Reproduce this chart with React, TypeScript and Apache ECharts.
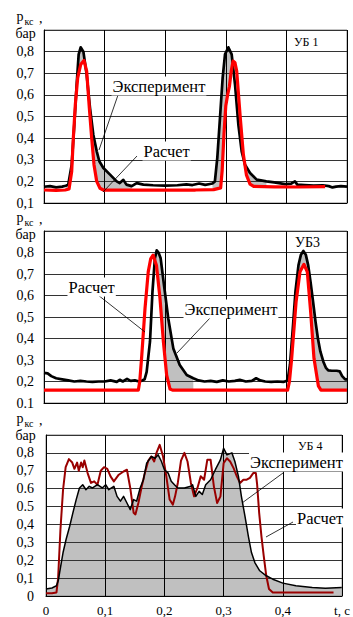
import React, { useEffect, useRef } from 'react';
import * as echarts from 'echarts';

type Pt = [number, number];

// ---------- Panel 1 (УБ 1) ----------
const p1Experiment: Pt[] = [
  [0, 0.175], [0.01, 0.178], [0.02, 0.172], [0.03, 0.176], [0.036, 0.18], [0.04, 0.185],
  [0.0457, 0.277], [0.05, 0.463], [0.0539, 0.648], [0.0572, 0.787], [0.0605, 0.82], [0.065, 0.8],
  [0.0704, 0.694], [0.0759, 0.54], [0.0814, 0.416], [0.087, 0.339], [0.0913, 0.293], [0.098, 0.262],
  [0.109, 0.231], [0.12, 0.2], [0.125, 0.192], [0.131, 0.207], [0.136, 0.185], [0.1447, 0.178],
  [0.153, 0.192], [0.164, 0.185], [0.18, 0.182], [0.2, 0.18], [0.22, 0.182], [0.235, 0.186],
  [0.245, 0.183], [0.256, 0.19], [0.266, 0.184], [0.274, 0.188], [0.278, 0.19], [0.282, 0.2],
  [0.286, 0.31], [0.2904, 0.494], [0.2948, 0.679], [0.2987, 0.787], [0.3042, 0.82], [0.3097, 0.787],
  [0.3152, 0.648], [0.3207, 0.463], [0.3262, 0.339], [0.3317, 0.277], [0.34, 0.239], [0.351, 0.208],
  [0.367, 0.2], [0.38, 0.195], [0.398, 0.187], [0.408, 0.19], [0.414, 0.2], [0.418, 0.185],
  [0.43, 0.183], [0.445, 0.18], [0.46, 0.182], [0.47, 0.178], [0.476, 0.172], [0.482, 0.176],
  [0.49, 0.178], [0.5, 0.176],
];
const p1Calc: Pt[] = [
  [0, 0.16], [0.02, 0.158], [0.035, 0.16], [0.0413, 0.165], [0.0457, 0.246], [0.0484, 0.401],
  [0.0517, 0.555], [0.0556, 0.679], [0.0605, 0.74], [0.066, 0.759], [0.0704, 0.71], [0.0748, 0.54],
  [0.0787, 0.4], [0.0825, 0.277], [0.087, 0.2], [0.0924, 0.168], [0.098, 0.16], [0.15, 0.16],
  [0.2, 0.16], [0.25, 0.16], [0.28, 0.162], [0.2915, 0.17], [0.294, 0.25], [0.297, 0.42],
  [0.3, 0.55], [0.303, 0.6], [0.306, 0.64], [0.309, 0.71], [0.312, 0.756], [0.315, 0.75],
  [0.318, 0.71], [0.321, 0.6], [0.324, 0.49], [0.329, 0.324], [0.334, 0.23], [0.34, 0.187],
  [0.346, 0.177], [0.38, 0.175], [0.42, 0.174], [0.464, 0.176],
];
const p1FillWindows: Pt[] = [[0.035, 0.15], [0.275, 0.37]];
const p1YLabels = ['0,1', '0,2', '0,3', '0,4', '0,5', '0,6', '0,7', '0,8', ''];

// ---------- Panel 2 (УБ3) ----------
const p2Experiment: Pt[] = [
  [0, 0.24], [0.006, 0.238], [0.012, 0.225], [0.02, 0.215], [0.03, 0.21], [0.04, 0.205],
  [0.05, 0.2], [0.06, 0.203], [0.07, 0.2], [0.08, 0.198], [0.09, 0.2], [0.1, 0.2], [0.11, 0.205],
  [0.12, 0.198], [0.125, 0.208], [0.13, 0.2], [0.137, 0.212], [0.143, 0.203], [0.15, 0.205],
  [0.157, 0.2], [0.162, 0.205], [0.166, 0.21], [0.1694, 0.245], [0.1749, 0.385], [0.179, 0.618],
  [0.183, 0.773], [0.186, 0.81], [0.189, 0.8], [0.1925, 0.773], [0.198, 0.649], [0.205, 0.494],
  [0.2134, 0.354], [0.224, 0.277], [0.2355, 0.23], [0.2464, 0.215], [0.255, 0.205], [0.265, 0.2],
  [0.275, 0.203], [0.285, 0.198], [0.295, 0.205], [0.305, 0.2], [0.315, 0.203], [0.323, 0.208],
  [0.333, 0.2], [0.343, 0.203], [0.35, 0.215], [0.357, 0.205], [0.365, 0.2], [0.375, 0.198],
  [0.385, 0.2], [0.395, 0.198], [0.402, 0.205], [0.406, 0.28], [0.411, 0.463], [0.415, 0.62],
  [0.42, 0.742], [0.424, 0.79], [0.428, 0.807], [0.432, 0.79], [0.436, 0.74], [0.44, 0.66],
  [0.444, 0.571], [0.448, 0.48], [0.452, 0.4], [0.456, 0.34], [0.461, 0.292], [0.465, 0.265],
  [0.469, 0.252], [0.475, 0.25], [0.483, 0.25], [0.488, 0.247], [0.492, 0.225], [0.497, 0.21],
  [0.5, 0.21],
];
const p2Calc: Pt[] = [
  [0, 0.16], [0.05, 0.16], [0.1, 0.16], [0.1557, 0.16], [0.158, 0.2], [0.161, 0.308],
  [0.1667, 0.54], [0.172, 0.71], [0.176, 0.77], [0.18, 0.788], [0.1856, 0.74], [0.1914, 0.587],
  [0.197, 0.385], [0.2024, 0.23], [0.208, 0.165], [0.212, 0.16], [0.3, 0.16], [0.402, 0.16],
  [0.405, 0.2], [0.4087, 0.308], [0.416, 0.571], [0.4224, 0.71], [0.429, 0.745], [0.4345, 0.71],
  [0.44, 0.525], [0.4455, 0.308], [0.4527, 0.18], [0.457, 0.16], [0.5, 0.16],
];
const p2FillWindows: Pt[] = [[0.164, 0.25], [0.4, 0.51]];
const p2YLabels = ['0.1', '0,2', '0,3', '0,4', '0,5', '0,6', '0,7', '0,8', ''];

// ---------- Panel 3 (УБ 4) ----------
const p3Experiment: Pt[] = [
  [0, 0.039], [0.01, 0.045], [0.0177, 0.057], [0.021, 0.09], [0.023, 0.13], [0.026, 0.19],
  [0.0288, 0.243], [0.034, 0.317], [0.04, 0.39], [0.0454, 0.465], [0.051, 0.539], [0.0565, 0.604],
  [0.062, 0.622], [0.0675, 0.594], [0.073, 0.613], [0.0786, 0.604], [0.0869, 0.622], [0.095, 0.604],
  [0.1008, 0.622], [0.106, 0.594], [0.1146, 0.613], [0.12, 0.557], [0.1257, 0.53], [0.131, 0.557],
  [0.1367, 0.52], [0.1423, 0.483], [0.148, 0.539], [0.153, 0.53], [0.159, 0.604], [0.1645, 0.65],
  [0.17, 0.743], [0.178, 0.78], [0.184, 0.77], [0.1894, 0.789], [0.195, 0.752], [0.2, 0.706],
  [0.2063, 0.687], [0.2115, 0.641], [0.217, 0.622], [0.2226, 0.604], [0.2337, 0.604], [0.2447, 0.613],
  [0.2475, 0.622], [0.253, 0.557], [0.2586, 0.585], [0.264, 0.567], [0.2697, 0.622], [0.278, 0.65],
  [0.286, 0.706], [0.2945, 0.761], [0.3, 0.826], [0.3056, 0.789], [0.314, 0.8], [0.319, 0.752],
  [0.325, 0.669], [0.33, 0.557], [0.336, 0.446], [0.3417, 0.335], [0.347, 0.243], [0.3527, 0.187],
  [0.361, 0.141], [0.372, 0.113], [0.383, 0.094], [0.4, 0.072], [0.422, 0.057], [0.4497, 0.048],
  [0.4718, 0.043], [0.4995, 0.048],
];
const p3Calc: Pt[] = [
  [0, 0.015], [0.01, 0.015], [0.0177, 0.02], [0.0205, 0.102], [0.0244, 0.372], [0.0288, 0.594],
  [0.0332, 0.72], [0.0387, 0.765], [0.0443, 0.746], [0.048, 0.711], [0.0525, 0.746], [0.0554, 0.7],
  [0.0593, 0.746], [0.062, 0.72], [0.0648, 0.757], [0.0703, 0.687], [0.0759, 0.632], [0.0814, 0.641],
  [0.0869, 0.622], [0.0925, 0.7], [0.098, 0.72], [0.1035, 0.711], [0.109, 0.669], [0.1146, 0.641],
  [0.1229, 0.678], [0.131, 0.696], [0.1367, 0.706], [0.1423, 0.604], [0.148, 0.465], [0.151, 0.456],
  [0.156, 0.52], [0.1617, 0.613], [0.167, 0.687], [0.1728, 0.757], [0.178, 0.78], [0.1827, 0.752],
  [0.1866, 0.8], [0.192, 0.845], [0.1977, 0.78], [0.2032, 0.669], [0.2088, 0.539], [0.2143, 0.511],
  [0.218, 0.557], [0.2226, 0.632], [0.228, 0.757], [0.2337, 0.8], [0.239, 0.752], [0.2447, 0.632],
  [0.25, 0.557], [0.2558, 0.604], [0.2613, 0.669], [0.267, 0.65], [0.2724, 0.761], [0.278, 0.761],
  [0.2835, 0.613], [0.289, 0.52], [0.2946, 0.557], [0.3, 0.743], [0.3056, 0.77], [0.311, 0.752],
  [0.3168, 0.715], [0.3223, 0.669], [0.3278, 0.632], [0.3333, 0.65], [0.339, 0.65], [0.3444, 0.66],
  [0.35, 0.687], [0.3544, 0.687], [0.3566, 0.622], [0.36, 0.465], [0.3638, 0.335], [0.3677, 0.224],
  [0.372, 0.113], [0.3766, 0.039], [0.383, 0.02], [0.42, 0.02], [0.4856, 0.02],
];
const p3YLabels = ['0', '0,1', '0,2', '0,3', '0,4', '0.5', '0.6', '0,7', '0,8', ''];
const p3XLabels = ['0', '0,1', '0,2', '0,3', '0,4', 't, с'];

const SERIF = 'Liberation Serif, Times New Roman, serif';

function App() {
  const ref = useRef<HTMLDivElement>(null);
  useEffect(() => {
    if (!ref.current) return;
    const chart = echarts.init(ref.current, undefined, { renderer: 'svg' });

    const grids = [
      { left: 44, top: 30, width: 303, height: 173 },
      { left: 44, top: 231, width: 303, height: 172 },
      { left: 46, top: 435, width: 301, height: 162 },
    ].map((g) => ({ ...g, show: true, borderColor: '#888', borderWidth: 1, backgroundColor: 'transparent', z: 3 }));

    const xAxes = [0, 1, 2].map((i) => ({
      type: 'value',
      gridIndex: i,
      min: 0,
      max: 0.5,
      interval: 0.1,
      z: 3,
      axisLine: { show: true, lineStyle: { color: '#000', width: 1 } },
      axisTick: { show: false },
      splitLine: { show: true, lineStyle: { color: '#000', width: 1 } },
      axisLabel: i === 2
        ? {
            show: true,
            showMaxLabel: true,
            showMinLabel: true,
            margin: 8,
            color: '#000',
            fontFamily: SERIF,
            fontSize: 13,
            formatter: (v: number) => p3XLabels[Math.round(v * 10)] ?? '',
          }
        : { show: false },
    }));

    const yLabelSets = [p1YLabels, p2YLabels, p3YLabels];
    const yAxes = [0, 1, 2].map((i) => ({
      type: 'value',
      gridIndex: i,
      min: i === 2 ? 0 : 0.1,
      max: 0.9,
      interval: 0.1,
      z: 3,
      axisLine: { show: true, lineStyle: { color: '#000', width: 1 } },
      axisTick: { show: false },
      splitLine: { show: true, lineStyle: { color: '#333', width: 1 } },
      axisLabel: {
        show: true,
        showMaxLabel: true,
        showMinLabel: true,
        margin: i === 2 ? 12 : 10,
        color: '#000',
        fontFamily: SERIF,
        fontSize: 14,
        formatter: (v: number) => {
          const idx = i === 2 ? Math.round(v * 10) : Math.round((v - 0.1) * 10);
          return yLabelSets[i][idx] ?? '';
        },
      },
    }));

    const fillSeries = (data: Pt[], windows: Pt[], idx: number) =>
      windows.map((w) => ({
        type: 'line',
        xAxisIndex: idx,
        yAxisIndex: idx,
        data: data.filter((p) => p[0] >= w[0] && p[0] <= w[1]),
        symbol: 'none',
        silent: true,
        lineStyle: { width: 0, opacity: 0 },
        areaStyle: { color: '#c0c0c0', opacity: 1, origin: 'start' },
        z: 1,
      }));

    const maskSeries = (data: Pt[], idx: number) => ({
      type: 'line',
      xAxisIndex: idx,
      yAxisIndex: idx,
      data,
      symbol: 'none',
      silent: true,
      lineStyle: { width: 0, opacity: 0 },
      areaStyle: { color: '#ffffff', opacity: 1, origin: 'start' },
      z: 2,
    });

    const lineSeries = (data: Pt[], idx: number, color: string, width: number, name: string) => ({
      type: 'line',
      name,
      xAxisIndex: idx,
      yAxisIndex: idx,
      data,
      symbol: 'none',
      lineStyle: { color, width, join: 'round' },
      z: 4,
    });

    const series: any[] = [
      ...fillSeries(p1Experiment, p1FillWindows, 0),
      maskSeries(p1Calc, 0),
      lineSeries(p1Experiment, 0, '#000000', 2.7, 'Эксперимент'),
      lineSeries(p1Calc, 0, '#ff0000', 3.2, 'Расчет'),
      ...fillSeries(p2Experiment, p2FillWindows, 1),
      maskSeries(p2Calc, 1),
      lineSeries(p2Experiment, 1, '#000000', 2.7, 'Эксперимент'),
      lineSeries(p2Calc, 1, '#ff0000', 3.2, 'Расчет'),
      ...fillSeries(p3Experiment, [[0, 0.5]], 2),
      lineSeries(p3Calc, 2, '#990000', 2, 'Расчет'),
      lineSeries(p3Experiment, 2, '#000000', 1.5, 'Эксперимент'),
    ];

    const txt = (text: string, x: number, y: number, size: number, bg = false) => ({
      type: 'text',
      x,
      y,
      z: 10,
      style: {
        text,
        fill: '#000',
        fontFamily: SERIF,
        fontSize: size,
        textAlign: 'left',
        textVerticalAlign: 'middle',
        ...(bg ? { backgroundColor: '#fff', padding: [1, 1] } : {}),
      },
    });
    const lead = (x1: number, y1: number, x2: number, y2: number) => ({
      type: 'line',
      z: 10,
      shape: { x1, y1, x2, y2 },
      style: { stroke: '#000', lineWidth: 0.8 },
    });
    const yTitle = (dy: number) => [
      txt('p', 16.5, 16 + dy, 14),
      txt('кс', 24.5, 21.5 + dy, 10),
      txt(',', 39, 18.5 + dy, 14),
      txt('бар', 15.5, 33 + dy, 14),
    ];

    const graphic: any[] = [
      ...yTitle(0),
      ...yTitle(201),
      ...yTitle(402),
      txt('УБ 1', 294, 42, 12),
      txt('УБ3', 295, 242, 14),
      txt('УБ 4', 298, 445.5, 12),
      // panel 1 annotations
      lead(118, 95, 99, 150),
      lead(137, 156, 103, 192),
      txt('Эксперимент', 111.5, 86, 16.5, true),
      txt('Расчет', 142.5, 151, 16.5, true),
      // panel 2 annotations
      lead(98, 295, 145, 332),
      lead(210, 318, 177, 353),
      txt('Расчет', 67.5, 287, 16.5, true),
      txt('Эксперимент', 183.5, 309, 16.5, true),
      // panel 3 annotations
      lead(283, 473, 242, 503),
      lead(293, 522, 266, 537),
      txt('Эксперимент', 249, 462, 16.5, true),
      txt('Расчет', 296, 518, 16.5, true),
    ];

    chart.setOption({
      animation: false,
      backgroundColor: '#fff',
      textStyle: { fontFamily: SERIF },
      grid: grids,
      xAxis: xAxes,
      yAxis: yAxes,
      series,
      graphic,
    } as any);

    return () => chart.dispose();
  }, []);

  return (
    <div
      ref={ref}
      style={{ position: 'absolute', left: 0, top: 0, width: 353, height: 617, background: '#fff' }}
    />
  );
}

export default App;
